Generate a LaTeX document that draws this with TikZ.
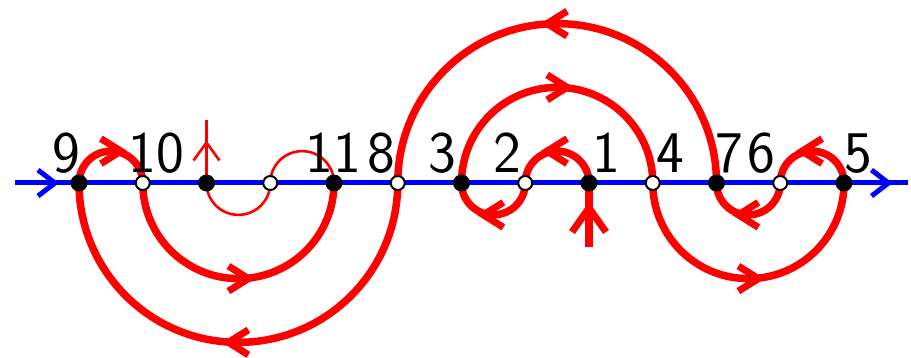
\documentclass[tikz,border=0pt]{standalone}
\usetikzlibrary{decorations.markings}
\begin{document}
\begin{tikzpicture}[x=1pt,y=-1pt,
  redthick/.style={draw=red,line width=7.5pt},
  redthin/.style={draw=red,line width=2.6pt},
  blueline/.style={draw=blue,line width=5pt},
  chev/.style={postaction={decorate,decoration={markings,
     mark=at position #1 with {\draw[line width=7pt,red,miter limit=10] (-10,12.5) -- (10,0) -- (-10,-12.5);}}}},
  chev/.default=0.5,
  blackdot/.style={circle,fill=black,inner sep=0pt,minimum size=17pt},
  whitedot/.style={circle,fill=white,draw=black,line width=2pt,inner sep=0pt,minimum size=14pt},
  lbl/.style={anchor=base,font=\sffamily\fontsize{59}{64}\selectfont,inner sep=0pt}]
\useasboundingbox (0,0) rectangle (911,358);
% points
\coordinate (p9) at (79,183);
\coordinate (p10) at (142.75,183);
\coordinate (pa) at (206.5,183);
\coordinate (pb) at (270.25,183);
\coordinate (p11) at (334,183);
\coordinate (p8) at (397.75,183);
\coordinate (p3) at (461.5,183);
\coordinate (p2) at (525.25,183);
\coordinate (p1) at (589,183);
\coordinate (p4) at (652.75,183);
\coordinate (p7) at (716.5,183);
\coordinate (p6) at (780.25,183);
\coordinate (p5) at (844,183);
\coordinate (lstart) at (15,183);
\coordinate (lend) at (908,183);
\coordinate (tailone) at (589,247);
\coordinate (tiptop) at (206.5,120);
% thin curve
\draw[redthin] (pa) arc[start angle=180,end angle=0,radius=31.875]
  arc[start angle=180,end angle=360,radius=31.875];
\draw[redthin,postaction={decorate,decoration={markings,
  mark=at position 0.5 with {\draw[line width=2.6pt,red] (-9,13) -- (9,0) -- (-9,-13);}}}] (pa) -- (tiptop);
% thick arcs
\draw[redthick,chev] (p9) arc[start angle=180,end angle=360,radius=31.875];
\draw[redthick,chev] (p10) arc[start angle=180,end angle=0,radius=95.625];
\draw[redthick,chev] (p8) arc[start angle=0,end angle=180,radius=159.375];
\draw[redthick,chev] (p7) arc[start angle=0,end angle=-180,radius=159.375];
\draw[redthick,chev] (p3) arc[start angle=180,end angle=360,radius=95.625];
\draw[redthick,chev] (p2) arc[start angle=0,end angle=180,radius=31.875];
\draw[redthick,chev] (p1) arc[start angle=0,end angle=-180,radius=31.875];
\draw[redthick,chev] (p4) arc[start angle=180,end angle=0,radius=95.625];
\draw[redthick,chev] (p6) arc[start angle=0,end angle=180,radius=31.875];
\draw[redthick,chev] (p5) arc[start angle=0,end angle=-180,radius=31.875];
\draw[redthick,postaction={decorate,decoration={markings,
  mark=at position 27pt with {\draw[line width=7pt,red] (-12,17) -- (12,0) -- (-12,-17);}}}] (tailone) -- (p1);
% blue axis
\draw[blueline,postaction={decorate,decoration={markings,
  mark=at position 31.5pt with {\draw[line width=5pt,blue] (-8.5,13) -- (8.5,0) -- (-8.5,-13);},
  mark=at position 865pt with {\draw[line width=5pt,blue] (-8.5,13) -- (8.5,0) -- (-8.5,-13);}}}] (lstart) -- (lend);
% dots
\foreach \p in {p9,pa,p11,p3,p1,p7,p5} \node[blackdot] (d\p) at (\p) {};
\foreach \p in {p10,pb,p8,p2,p4,p6} \node[whitedot] (d\p) at (\p) {};
% labels
\node[lbl] (l9) at (66,173) {9};
\node[lbl] (l10) at (156,173) {10};
\node[lbl] (l11) at (333,173) {11};
\node[lbl] (l8) at (381,173) {8};
\node[lbl] (l3) at (442,173) {3};
\node[lbl] (l2) at (507,173) {2};
\node[lbl] (l1) at (606,173) {1};
\node[lbl] (l4) at (670,173) {4};
\node[lbl] (l7) at (729,173) {7};
\node[lbl] (l6) at (761,173) {6};
\node[lbl] (l5) at (858,173) {5};
\end{tikzpicture}
\end{document}
